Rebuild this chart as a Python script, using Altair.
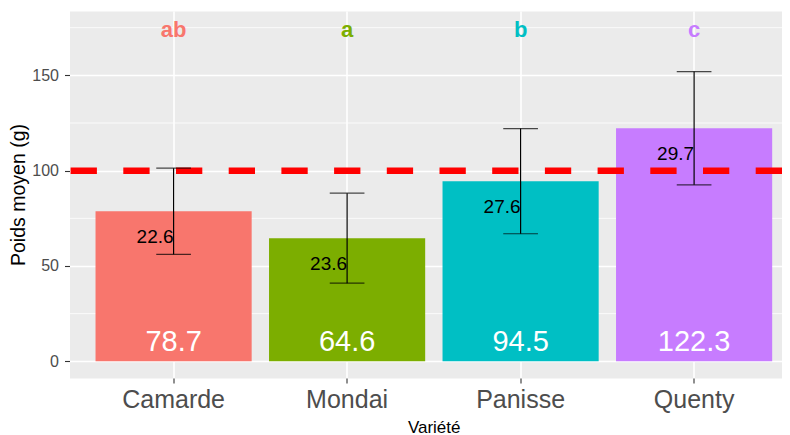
import altair as alt
import pandas as pd

# ---- data ----
categories = ["Camarde", "Mondai", "Panisse", "Quenty"]
means = [78.7, 64.6, 94.5, 122.3]
sds = [22.6, 23.6, 27.6, 29.7]
letters = ["ab", "a", "b", "c"]
colors = ["#F8766D", "#7CAE00", "#00BFC4", "#C77CFF"]
y_ticks = [0, 50, 100, 150]
y_minor = [25, 75, 125, 175]
reference = [100]
letter_level = 175
label_level = 10

df = pd.DataFrame({"Variete": categories, "mean": means, "sd": sds, "letter": letters})
df["lo"] = df["mean"] - df["sd"]
df["hi"] = df["mean"] + df["sd"]
df["mean_lbl"] = df["mean"].map(lambda v: f"{v:.1f}")
df["sd_lbl"] = df["sd"].map(lambda v: f"{v:.1f}")

FONT = "Liberation Sans"

xscale = alt.Scale(domain=categories, paddingInner=0.1, paddingOuter=0.1033, align=0.726)
yscale = alt.Scale(domain=[-8.75, 183.75], nice=False, zero=False)
cscale = alt.Scale(domain=categories, range=colors)

xaxis = alt.Axis(
    title="Variété", labelAngle=0, labelFontSize=25, labelColor="#4D4D4D", labelFont=FONT,
    tickColor="#333333", tickSize=5, tickWidth=1.1, domain=False, grid=True,
    gridColor="white", gridWidth=1.6, labelPadding=4,
    titleFontSize=17, titleFontWeight="normal", titleColor="black", titleFont=FONT,
    titlePadding=7, titleX=364.2,
)
yaxis = alt.Axis(
    title="Poids moyen (g)", values=y_ticks, labelFontSize=16, labelColor="#4D4D4D",
    labelFont=FONT, tickColor="#333333", tickSize=5, tickWidth=1.1, domain=False,
    grid=True, gridColor="white", gridWidth=1.6, labelPadding=6,
    titleFontSize=19.5, titleFontWeight="normal", titleColor="black", titleFont=FONT,
    titlePadding=3,
)

X = alt.X("Variete:N", scale=xscale, axis=xaxis, sort=categories)

minor = alt.Chart(pd.DataFrame({"v": y_minor})).mark_rule(
    color="white", strokeWidth=0.8
).encode(y=alt.Y("v:Q", scale=yscale, axis=yaxis))

base = alt.Chart(df)

bars = base.mark_bar().encode(
    x=X,
    y=alt.Y("mean:Q", scale=yscale, axis=yaxis),
    color=alt.Color("Variete:N", scale=cscale, legend=None),
)

refline = alt.Chart(pd.DataFrame({"r": reference})).mark_rule(
    color="#FF0000", strokeWidth=6.5, strokeDash=[26.3, 26.4]
).encode(y=alt.Y("r:Q", scale=yscale, axis=yaxis))

err = base.mark_rule(color="black", strokeWidth=1.2).encode(
    x=X, y=alt.Y("lo:Q", scale=yscale, axis=yaxis), y2="hi:Q"
)
cap_lo = base.mark_tick(orient="horizontal", size=34.7, thickness=1.2, color="black").encode(
    x=X, y=alt.Y("lo:Q", scale=yscale, axis=yaxis)
)
cap_hi = base.mark_tick(orient="horizontal", size=34.7, thickness=1.2, color="black").encode(
    x=X, y=alt.Y("hi:Q", scale=yscale, axis=yaxis)
)

mean_txt = base.mark_text(color="white", fontSize=29, font=FONT, baseline="middle").encode(
    x=X, y=alt.datum(label_level), text="mean_lbl:N"
)
sd_txt = base.mark_text(
    color="black", fontSize=19, font=FONT, baseline="middle", align="right", dy=25.6
).encode(x=X, y=alt.Y("mean:Q", scale=yscale, axis=yaxis), text="sd_lbl:N")

letter_txt = base.mark_text(fontSize=22, font=FONT, fontWeight="bold", baseline="middle", dy=2).encode(
    x=X, y=alt.datum(letter_level), text="letter:N",
    color=alt.Color("Variete:N", scale=cscale, legend=None),
)

chart = alt.layer(
    minor, bars, refline, err, cap_lo, cap_hi, mean_txt, sd_txt, letter_txt
).properties(
    width=712.5, height=367,
    autosize=alt.AutoSizeParams(type="none"),
    padding={"left": 61.5, "top": 3, "right": 0, "bottom": 57},
    background="white",
).configure_view(fill="#EBEBEB", strokeOpacity=0)

chart.save("out.html", embed_options={"renderer": "svg", "actions": False})
